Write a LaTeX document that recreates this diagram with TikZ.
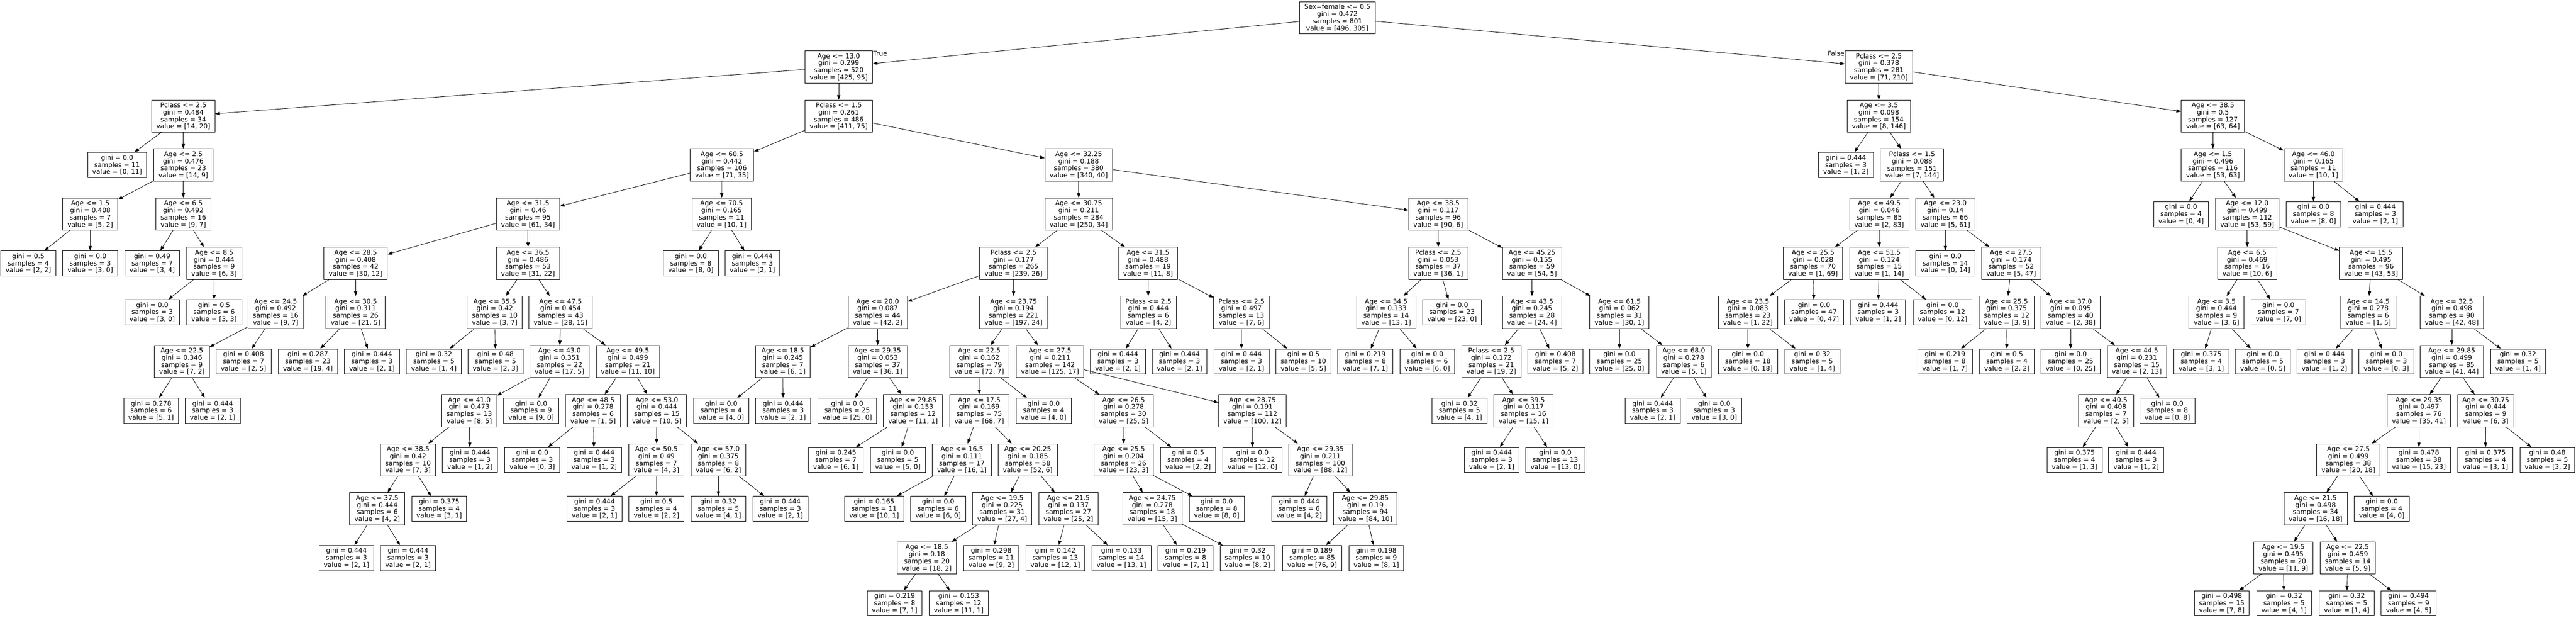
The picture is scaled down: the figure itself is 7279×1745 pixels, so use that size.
\documentclass[tikz,border=0pt]{standalone}
\usepackage{fontspec}
\usepackage{tikz}
\usetikzlibrary{arrows.meta}
\newfontfamily\treefont{DejaVu Sans}

\begin{document}
\begin{tikzpicture}[x=0.02cm, y=-0.02cm, >={Triangle[length=0.26cm, width=0.19cm]}]
	% Define styles for boxes
	\tikzset{
		splitbox/.style={
			rectangle,
			draw,
			line width=0.7pt,
			minimum height=1.82cm,
			inner xsep=0.27cm,
			inner ysep=0pt,
			align=center,
			font=\treefont\fontsize{10.6pt}{11.4pt}\selectfont
		},
		leafbox/.style={
			splitbox,
			minimum height=1.42cm % leaves have three lines
		},
		lbl/.style={
			inner sep=0.5pt,
			font=\treefont\fontsize{10.6pt}{11.4pt}\selectfont
		},
		branch/.style={->, line width=0.7pt}
	}
	\useasboundingbox (0,0) rectangle (7279,1745);
	
	% Root and first split
	\node[splitbox] (t) at (3779,50) {Sex=female <= 0.5\\gini = 0.472\\samples = 801\\value = [496, 305]};
	\node[splitbox] (tL) at (2370,189) {Age <= 13.0\\gini = 0.299\\samples = 520\\value = [425, 95]};
	\node[splitbox] (tR) at (5309,189) {Pclass <= 2.5\\gini = 0.378\\samples = 281\\value = [71, 210]};
	\node[lbl, anchor=north west] (trueLbl) at (tL.north east) {True};
	\node[lbl, anchor=north east] (falseLbl) at (tR.north west) {False};
	
	% Nodes for Age <= 13.0, children
	\node[splitbox] (tLL) at (518,328) {Pclass <= 2.5\\gini = 0.484\\samples = 34\\value = [14, 20]};
	\node[splitbox] (tLR) at (2370,328) {Pclass <= 1.5\\gini = 0.261\\samples = 486\\value = [411, 75]};
	\node[leafbox] (tLLL) at (331,466) {gini = 0.0\\samples = 11\\value = [0, 11]};
	\node[splitbox] (tLLR) at (518,466) {Age <= 2.5\\gini = 0.476\\samples = 23\\value = [14, 9]};
	\node[splitbox] (tLLRL) at (255,605) {Age <= 1.5\\gini = 0.408\\samples = 7\\value = [5, 2]};
	\node[splitbox] (tLLRR) at (518,605) {Age <= 6.5\\gini = 0.492\\samples = 16\\value = [9, 7]};
	\node[leafbox] (tLLRLL) at (80,744) {gini = 0.5\\samples = 4\\value = [2, 2]};
	\node[leafbox] (tLLRLR) at (255,744) {gini = 0.0\\samples = 3\\value = [3, 0]};
	\node[leafbox] (tLLRRL) at (430,744) {gini = 0.49\\samples = 7\\value = [3, 4]};
	\node[splitbox] (tLLRRR) at (605,744) {Age <= 8.5\\gini = 0.444\\samples = 9\\value = [6, 3]};
	\node[leafbox] (tLLRRRL) at (430,882) {gini = 0.0\\samples = 3\\value = [3, 0]};
	\node[leafbox] (tLLRRRR) at (605,882) {gini = 0.5\\samples = 6\\value = [3, 3]};
	
	% Nodes for Pclass <= 1.5
	\node[splitbox] (tLRL) at (2040,466) {Age <= 60.5\\gini = 0.442\\samples = 106\\value = [71, 35]};
	\node[splitbox] (tLRLL) at (1492,605) {Age <= 31.5\\gini = 0.46\\samples = 95\\value = [61, 34]};
	\node[splitbox] (tLRLR) at (2039,605) {Age <= 70.5\\gini = 0.165\\samples = 11\\value = [10, 1]};
	\node[leafbox] (tLRLRL) at (1952,744) {gini = 0.0\\samples = 8\\value = [8, 0]};
	\node[leafbox] (tLRLRR) at (2126,744) {gini = 0.444\\samples = 3\\value = [2, 1]};
	\node[splitbox] (tLRLLL) at (1005,744) {Age <= 28.5\\gini = 0.408\\samples = 42\\value = [30, 12]};
	\node[splitbox] (tLRLLR) at (1492,744) {Age <= 36.5\\gini = 0.486\\samples = 53\\value = [31, 22]};
	\node[splitbox] (tLRLLLL) at (779,882) {Age <= 24.5\\gini = 0.492\\samples = 16\\value = [9, 7]};
	\node[splitbox] (tLRLLLR) at (1005,882) {Age <= 30.5\\gini = 0.311\\samples = 26\\value = [21, 5]};
	\node[splitbox] (tLRLLLLL) at (514,1021) {Age <= 22.5\\gini = 0.346\\samples = 9\\value = [7, 2]};
	\node[leafbox] (tLRLLLLR) at (688,1021) {gini = 0.408\\samples = 7\\value = [2, 5]};
	\node[leafbox] (tLRLLLLLL) at (427,1160) {gini = 0.278\\samples = 6\\value = [5, 1]};
	\node[leafbox] (tLRLLLLLR) at (601,1160) {gini = 0.444\\samples = 3\\value = [2, 1]};
	\node[leafbox] (tLRLLLRL) at (870,1021) {gini = 0.287\\samples = 23\\value = [19, 4]};
	\node[leafbox] (tLRLLLRR) at (1051,1021) {gini = 0.444\\samples = 3\\value = [2, 1]};
	\node[splitbox] (tLRLLRL) at (1398,882) {Age <= 35.5\\gini = 0.42\\samples = 10\\value = [3, 7]};
	\node[splitbox] (tLRLLRR) at (1584,882) {Age <= 47.5\\gini = 0.454\\samples = 43\\value = [28, 15]};
	\node[leafbox] (tLRLLRLL) at (1226,1021) {gini = 0.32\\samples = 5\\value = [1, 4]};
	\node[leafbox] (tLRLLRLR) at (1400,1021) {gini = 0.48\\samples = 5\\value = [2, 3]};
	\node[splitbox] (tLRLLRRL) at (1581,1021) {Age <= 43.0\\gini = 0.351\\samples = 22\\value = [17, 5]};
	\node[splitbox] (tLRLLRRR) at (1774,1021) {Age <= 49.5\\gini = 0.499\\samples = 21\\value = [11, 10]};
	\node[splitbox] (tLRLLRRLL) at (1326,1160) {Age <= 41.0\\gini = 0.473\\samples = 13\\value = [8, 5]};
	\node[leafbox] (tLRLLRRLR) at (1501,1160) {gini = 0.0\\samples = 9\\value = [9, 0]};
	\node[splitbox] (tLRLLRRLLL) at (1153,1299) {Age <= 38.5\\gini = 0.42\\samples = 10\\value = [7, 3]};
	\node[leafbox] (tLRLLRRLLR) at (1328,1299) {gini = 0.444\\samples = 3\\value = [1, 2]};
	\node[splitbox] (tLRLLRRLLLL) at (1066,1437) {Age <= 37.5\\gini = 0.444\\samples = 6\\value = [4, 2]};
	\node[leafbox] (tLRLLRRLLLR) at (1241,1437) {gini = 0.375\\samples = 4\\value = [3, 1]};
	\node[leafbox] (tLRLLRRLLLLL) at (979,1576) {gini = 0.444\\samples = 3\\value = [2, 1]};
	\node[leafbox] (tLRLLRRLLLLR) at (1153,1576) {gini = 0.444\\samples = 3\\value = [2, 1]};
	\node[splitbox] (tLRLLRRRL) at (1676,1160) {Age <= 48.5\\gini = 0.278\\samples = 6\\value = [1, 5]};
	\node[splitbox] (tLRLLRRRR) at (1856,1160) {Age <= 53.0\\gini = 0.444\\samples = 15\\value = [10, 5]};
	\node[leafbox] (tLRLLRRRLL) at (1504,1299) {gini = 0.0\\samples = 3\\value = [0, 3]};
	\node[leafbox] (tLRLLRRRLR) at (1679,1299) {gini = 0.444\\samples = 3\\value = [1, 2]};
	\node[splitbox] (tLRLLRRRRL) at (1855,1299) {Age <= 50.5\\gini = 0.49\\samples = 7\\value = [4, 3]};
	\node[splitbox] (tLRLLRRRRR) at (2030,1299) {Age <= 57.0\\gini = 0.375\\samples = 8\\value = [6, 2]};
	\node[leafbox] (tLRLLRRRRLL) at (1680,1437) {gini = 0.444\\samples = 3\\value = [2, 1]};
	\node[leafbox] (tLRLLRRRRLR) at (1855,1437) {gini = 0.5\\samples = 4\\value = [2, 2]};
	\node[leafbox] (tLRLLRRRRRL) at (2030,1437) {gini = 0.32\\samples = 5\\value = [4, 1]};
	\node[leafbox] (tLRLLRRRRRR) at (2205,1437) {gini = 0.444\\samples = 3\\value = [2, 1]};
	
	% Nodes for Age <= 32.25
	\node[splitbox] (tLRR) at (3048,466) {Age <= 32.25\\gini = 0.188\\samples = 380\\value = [340, 40]};
	\node[splitbox] (tLRRL) at (3048,605) {Age <= 30.75\\gini = 0.211\\samples = 284\\value = [250, 34]};
	\node[splitbox] (tLRRR) at (4064,605) {Age <= 38.5\\gini = 0.117\\samples = 96\\value = [90, 6]};
	\node[splitbox] (tLRRLL) at (2864,744) {Pclass <= 2.5\\gini = 0.177\\samples = 265\\value = [239, 26]};
	\node[splitbox] (tLRRLR) at (3244,744) {Age <= 31.5\\gini = 0.488\\samples = 19\\value = [11, 8]};
	\node[splitbox] (tLRRLLL) at (2480,882) {Age <= 20.0\\gini = 0.087\\samples = 44\\value = [42, 2]};
	\node[splitbox] (tLRRLLR) at (2864,882) {Age <= 23.75\\gini = 0.194\\samples = 221\\value = [197, 24]};
	\node[splitbox] (tLRRLLLL) at (2212,1021) {Age <= 18.5\\gini = 0.245\\samples = 7\\value = [6, 1]};
	\node[splitbox] (tLRRLLLR) at (2480,1021) {Age <= 29.35\\gini = 0.053\\samples = 37\\value = [36, 1]};
	\node[leafbox] (tLRRLLLLL) at (2038,1160) {gini = 0.0\\samples = 4\\value = [4, 0]};
	\node[leafbox] (tLRRLLLLR) at (2213,1160) {gini = 0.444\\samples = 3\\value = [2, 1]};
	\node[leafbox] (tLRRLLLRL) at (2394,1160) {gini = 0.0\\samples = 25\\value = [25, 0]};
	\node[splitbox] (tLRRLLLRR) at (2580,1160) {Age <= 29.85\\gini = 0.153\\samples = 12\\value = [11, 1]};
	\node[leafbox] (tLRRLLLRRL) at (2362,1299) {gini = 0.245\\samples = 7\\value = [6, 1]};
	\node[leafbox] (tLRRLLLRRR) at (2537,1299) {gini = 0.0\\samples = 5\\value = [5, 0]};
	\node[splitbox] (tLRRLLRL) at (2767,1021) {Age <= 22.5\\gini = 0.162\\samples = 79\\value = [72, 7]};
	\node[splitbox] (tLRRLLRR) at (2967,1021) {Age <= 27.5\\gini = 0.211\\samples = 142\\value = [125, 17]};
	\node[splitbox] (tLRRLLRLL) at (2767,1160) {Age <= 17.5\\gini = 0.169\\samples = 75\\value = [68, 7]};
	\node[leafbox] (tLRRLLRLR) at (2949,1160) {gini = 0.0\\samples = 4\\value = [4, 0]};
	\node[splitbox] (tLRRLLRLLL) at (2718,1299) {Age <= 16.5\\gini = 0.111\\samples = 17\\value = [16, 1]};
	\node[splitbox] (tLRRLLRLLR) at (2904,1299) {Age <= 20.25\\gini = 0.185\\samples = 58\\value = [52, 6]};
	\node[leafbox] (tLRRLLRLLLL) at (2470,1437) {gini = 0.165\\samples = 11\\value = [10, 1]};
	\node[leafbox] (tLRRLLRLLLR) at (2651,1437) {gini = 0.0\\samples = 6\\value = [6, 0]};
	\node[splitbox] (tLRRLLRLLRL) at (2832,1437) {Age <= 19.5\\gini = 0.225\\samples = 31\\value = [27, 4]};
	\node[splitbox] (tLRRLLRLLRR) at (3019,1437) {Age <= 21.5\\gini = 0.137\\samples = 27\\value = [25, 2]};
	\node[splitbox] (tLRRLLRLLRLL) at (2619,1576) {Age <= 18.5\\gini = 0.18\\samples = 20\\value = [18, 2]};
	\node[leafbox] (tLRRLLRLLRLR) at (2801,1576) {gini = 0.298\\samples = 11\\value = [9, 2]};
	\node[leafbox] (tLRRLLRLLRLLL) at (2528,1704) {gini = 0.219\\samples = 8\\value = [7, 1]};
	\node[leafbox] (tLRRLLRLLRLLR) at (2709,1704) {gini = 0.153\\samples = 12\\value = [11, 1]};
	\node[leafbox] (tLRRLLRLLRRL) at (2982,1576) {gini = 0.142\\samples = 13\\value = [12, 1]};
	\node[leafbox] (tLRRLLRLLRRR) at (3169,1576) {gini = 0.133\\samples = 14\\value = [13, 1]};
	\node[splitbox] (tLRRLLRRL) at (3175,1160) {Age <= 26.5\\gini = 0.278\\samples = 30\\value = [25, 5]};
	\node[splitbox] (tLRRLLRRR) at (3539,1160) {Age <= 28.75\\gini = 0.191\\samples = 112\\value = [100, 12]};
	\node[splitbox] (tLRRLLRRLL) at (3175,1299) {Age <= 25.5\\gini = 0.204\\samples = 26\\value = [23, 3]};
	\node[leafbox] (tLRRLLRRLR) at (3357,1299) {gini = 0.5\\samples = 4\\value = [2, 2]};
	\node[splitbox] (tLRRLLRRLLL) at (3256,1437) {Age <= 24.75\\gini = 0.278\\samples = 18\\value = [15, 3]};
	\node[leafbox] (tLRRLLRRLLR) at (3438,1437) {gini = 0.0\\samples = 8\\value = [8, 0]};
	\node[leafbox] (tLRRLLRRLLLL) at (3350,1576) {gini = 0.219\\samples = 8\\value = [7, 1]};
	\node[leafbox] (tLRRLLRRLLLR) at (3525,1576) {gini = 0.32\\samples = 10\\value = [8, 2]};
	\node[leafbox] (tLRRLLRRRL) at (3539,1299) {gini = 0.0\\samples = 12\\value = [12, 0]};
	\node[splitbox] (tLRRLLRRRR) at (3731,1299) {Age <= 29.35\\gini = 0.211\\samples = 100\\value = [88, 12]};
	\node[leafbox] (tLRRLLRRRRL) at (3671,1437) {gini = 0.444\\samples = 6\\value = [4, 2]};
	\node[splitbox] (tLRRLLRRRRR) at (3858,1437) {Age <= 29.85\\gini = 0.19\\samples = 94\\value = [84, 10]};
	\node[leafbox] (tLRRLLRRRRRL) at (3708,1576) {gini = 0.189\\samples = 85\\value = [76, 9]};
	\node[leafbox] (tLRRLLRRRRRR) at (3889,1576) {gini = 0.198\\samples = 9\\value = [8, 1]};
	\node[splitbox] (tLRRLRL) at (3245,882) {Pclass <= 2.5\\gini = 0.444\\samples = 6\\value = [4, 2]};
	\node[splitbox] (tLRRLRR) at (3508,882) {Pclass <= 2.5\\gini = 0.497\\samples = 13\\value = [7, 6]};
	\node[leafbox] (tLRRLRLL) at (3159,1021) {gini = 0.444\\samples = 3\\value = [2, 1]};
	\node[leafbox] (tLRRLRLR) at (3333,1021) {gini = 0.444\\samples = 3\\value = [2, 1]};
	\node[leafbox] (tLRRLRRL) at (3508,1021) {gini = 0.444\\samples = 3\\value = [2, 1]};
	\node[leafbox] (tLRRLRRR) at (3683,1021) {gini = 0.5\\samples = 10\\value = [5, 5]};
	
	% Nodes for Age > 32.25
	\node[splitbox] (tLRRRL) at (4064,744) {Pclass <= 2.5\\gini = 0.053\\samples = 37\\value = [36, 1]};
	\node[splitbox] (tLRRRR) at (4329,744) {Age <= 45.25\\gini = 0.155\\samples = 59\\value = [54, 5]};
	\node[splitbox] (tLRRRLL) at (3917,882) {Age <= 34.5\\gini = 0.133\\samples = 14\\value = [13, 1]};
	\node[leafbox] (tLRRRLR) at (4103,882) {gini = 0.0\\samples = 23\\value = [23, 0]};
	\node[leafbox] (tLRRRLLL) at (3858,1021) {gini = 0.219\\samples = 8\\value = [7, 1]};
	\node[leafbox] (tLRRRLLR) at (4033,1021) {gini = 0.0\\samples = 6\\value = [6, 0]};
	\node[splitbox] (tLRRRRL) at (4329,882) {Age <= 43.5\\gini = 0.245\\samples = 28\\value = [24, 4]};
	\node[splitbox] (tLRRRRR) at (4576,882) {Age <= 61.5\\gini = 0.062\\samples = 31\\value = [30, 1]};
	\node[splitbox] (tLRRRRLL) at (4214,1021) {Pclass <= 2.5\\gini = 0.172\\samples = 21\\value = [19, 2]};
	\node[leafbox] (tLRRRRLR) at (4395,1021) {gini = 0.408\\samples = 7\\value = [5, 2]};
	\node[leafbox] (tLRRRRLLL) at (4124,1160) {gini = 0.32\\samples = 5\\value = [4, 1]};
	\node[splitbox] (tLRRRRLLR) at (4305,1160) {Age <= 39.5\\gini = 0.117\\samples = 16\\value = [15, 1]};
	\node[leafbox] (tLRRRRLLRL) at (4215,1299) {gini = 0.444\\samples = 3\\value = [2, 1]};
	\node[leafbox] (tLRRRRLLRR) at (4395,1299) {gini = 0.0\\samples = 13\\value = [13, 0]};
	\node[leafbox] (tLRRRRRL) at (4576,1021) {gini = 0.0\\samples = 25\\value = [25, 0]};
	\node[splitbox] (tLRRRRRR) at (4758,1021) {Age <= 68.0\\gini = 0.278\\samples = 6\\value = [5, 1]};
	\node[leafbox] (tLRRRRRRL) at (4670,1160) {gini = 0.444\\samples = 3\\value = [2, 1]};
	\node[leafbox] (tLRRRRRRR) at (4844,1160) {gini = 0.0\\samples = 3\\value = [3, 0]};
	
	% Nodes for Pclass <= 2.5 (False side)
	\node[splitbox] (tRL) at (5309,328) {Age <= 3.5\\gini = 0.098\\samples = 154\\value = [8, 146]};
	\node[splitbox] (tRR) at (6253,328) {Age <= 38.5\\gini = 0.5\\samples = 127\\value = [63, 64]};
	\node[leafbox] (tRLL) at (5216,466) {gini = 0.444\\samples = 3\\value = [1, 2]};
	\node[splitbox] (tRLR) at (5403,466) {Pclass <= 1.5\\gini = 0.088\\samples = 151\\value = [7, 144]};
	\node[splitbox] (tRLRL) at (5310,605) {Age <= 49.5\\gini = 0.046\\samples = 85\\value = [2, 83]};
	\node[splitbox] (tRLRR) at (5497,605) {Age <= 23.0\\gini = 0.14\\samples = 66\\value = [5, 61]};
	\node[splitbox] (tRLRLL) at (5123,744) {Age <= 25.5\\gini = 0.028\\samples = 70\\value = [1, 69]};
	\node[splitbox] (tRLRLR) at (5310,744) {Age <= 51.5\\gini = 0.124\\samples = 15\\value = [1, 14]};
	\node[splitbox] (tRLRLLL) at (4939,882) {Age <= 23.5\\gini = 0.083\\samples = 23\\value = [1, 22]};
	\node[leafbox] (tRLRLLR) at (5126,882) {gini = 0.0\\samples = 47\\value = [0, 47]};
	\node[leafbox] (tRLRLLLL) at (4939,1021) {gini = 0.0\\samples = 18\\value = [0, 18]};
	\node[leafbox] (tRLRLLLR) at (5121,1021) {gini = 0.32\\samples = 5\\value = [1, 4]};
	\node[leafbox] (tRLRLRL) at (5307,882) {gini = 0.444\\samples = 3\\value = [1, 2]};
	\node[leafbox] (tRLRLRR) at (5489,882) {gini = 0.0\\samples = 12\\value = [0, 12]};
	\node[leafbox] (tRLRRL) at (5497,744) {gini = 0.0\\samples = 14\\value = [0, 14]};
	\node[splitbox] (tRLRRR) at (5683,744) {Age <= 27.5\\gini = 0.174\\samples = 52\\value = [5, 47]};
	\node[splitbox] (tRLRRRL) at (5670,882) {Age <= 25.5\\gini = 0.375\\samples = 12\\value = [3, 9]};
	\node[splitbox] (tRLRRRR) at (5851,882) {Age <= 37.0\\gini = 0.095\\samples = 40\\value = [2, 38]};
	\node[leafbox] (tRLRRRLL) at (5496,1021) {gini = 0.219\\samples = 8\\value = [1, 7]};
	\node[leafbox] (tRLRRRLR) at (5671,1021) {gini = 0.5\\samples = 4\\value = [2, 2]};
	\node[leafbox] (tRLRRRRL) at (5851,1021) {gini = 0.0\\samples = 25\\value = [0, 25]};
	\node[splitbox] (tRLRRRRR) at (6038,1021) {Age <= 44.5\\gini = 0.231\\samples = 15\\value = [2, 13]};
	\node[splitbox] (tRLRRRRRL) at (5951,1160) {Age <= 40.5\\gini = 0.408\\samples = 7\\value = [2, 5]};
	\node[leafbox] (tRLRRRRRR) at (6124,1160) {gini = 0.0\\samples = 8\\value = [0, 8]};
	\node[leafbox] (tRLRRRRRLL) at (5862,1299) {gini = 0.375\\samples = 4\\value = [1, 3]};
	\node[leafbox] (tRLRRRRRLR) at (6036,1299) {gini = 0.444\\samples = 3\\value = [1, 2]};
	
	% Nodes for Age <= 38.5 (False side)
	\node[splitbox] (tRRL) at (6253,466) {Age <= 1.5\\gini = 0.496\\samples = 116\\value = [53, 63]};
	\node[splitbox] (tRRR) at (6537,466) {Age <= 46.0\\gini = 0.165\\samples = 11\\value = [10, 1]};
	\node[leafbox] (tRRRL) at (6537,605) {gini = 0.0\\samples = 8\\value = [8, 0]};
	\node[leafbox] (tRRRR) at (6712,605) {gini = 0.444\\samples = 3\\value = [2, 1]};
	\node[leafbox] (tRRLL) at (6163,605) {gini = 0.0\\samples = 4\\value = [0, 4]};
	\node[splitbox] (tRRLR) at (6350,605) {Age <= 12.0\\gini = 0.499\\samples = 112\\value = [53, 59]};
	\node[splitbox] (tRRLRL) at (6350,744) {Age <= 6.5\\gini = 0.469\\samples = 16\\value = [10, 6]};
	\node[splitbox] (tRRLRR) at (6700,744) {Age <= 15.5\\gini = 0.495\\samples = 96\\value = [43, 53]};
	\node[splitbox] (tRRLRLL) at (6263,882) {Age <= 3.5\\gini = 0.444\\samples = 9\\value = [3, 6]};
	\node[leafbox] (tRRLRLR) at (6438,882) {gini = 0.0\\samples = 7\\value = [7, 0]};
	\node[leafbox] (tRRLRLLL) at (6220,1021) {gini = 0.375\\samples = 4\\value = [3, 1]};
	\node[leafbox] (tRRLRLLR) at (6394,1021) {gini = 0.0\\samples = 5\\value = [0, 5]};
	\node[splitbox] (tRRLRRL) at (6692,882) {Age <= 14.5\\gini = 0.278\\samples = 6\\value = [1, 5]};
	\node[splitbox] (tRRLRRR) at (6928,882) {Age <= 32.5\\gini = 0.498\\samples = 90\\value = [42, 48]};
	\node[leafbox] (tRRLRRLL) at (6568,1021) {gini = 0.444\\samples = 3\\value = [1, 2]};
	\node[leafbox] (tRRLRRLR) at (6743,1021) {gini = 0.0\\samples = 3\\value = [0, 3]};
	\node[splitbox] (tRRLRRRL) at (6928,1021) {Age <= 29.85\\gini = 0.499\\samples = 85\\value = [41, 44]};
	\node[leafbox] (tRRLRRRR) at (7115,1021) {gini = 0.32\\samples = 5\\value = [1, 4]};
	\node[splitbox] (tRRLRRRLL) at (6835,1160) {Age <= 29.35\\gini = 0.497\\samples = 76\\value = [35, 41]};
	\node[splitbox] (tRRLRRRLR) at (7024,1160) {Age <= 30.75\\gini = 0.444\\samples = 9\\value = [6, 3]};
	\node[splitbox] (tRRLRRRLLL) at (6636,1299) {Age <= 27.5\\gini = 0.499\\samples = 38\\value = [20, 18]};
	\node[leafbox] (tRRLRRRLLR) at (6835,1299) {gini = 0.478\\samples = 38\\value = [15, 23]};
	\node[leafbox] (tRRLRRRLRL) at (7023,1299) {gini = 0.375\\samples = 4\\value = [3, 1]};
	\node[leafbox] (tRRLRRRLRR) at (7198,1299) {gini = 0.48\\samples = 5\\value = [3, 2]};
	\node[splitbox] (tRRLRRRLLLL) at (6543,1437) {Age <= 21.5\\gini = 0.498\\samples = 34\\value = [16, 18]};
	\node[leafbox] (tRRLRRRLLLR) at (6730,1437) {gini = 0.0\\samples = 4\\value = [4, 0]};
	\node[splitbox] (tRRLRRRLLLLL) at (6452,1576) {Age <= 19.5\\gini = 0.495\\samples = 20\\value = [11, 9]};
	\node[splitbox] (tRRLRRRLLLLR) at (6634,1576) {Age <= 22.5\\gini = 0.459\\samples = 14\\value = [5, 9]};
	\node[leafbox] (tRRLRRRLLLLLL) at (6278,1704) {gini = 0.498\\samples = 15\\value = [7, 8]};
	\node[leafbox] (tRRLRRRLLLLLR) at (6454,1704) {gini = 0.32\\samples = 5\\value = [4, 1]};
	\node[leafbox] (tRRLRRRLLLLRL) at (6631,1704) {gini = 0.32\\samples = 5\\value = [1, 4]};
	\node[leafbox] (tRRLRRRLLLLRR) at (6806,1704) {gini = 0.494\\samples = 9\\value = [4, 5]};
	
	% Arrows from root
	\draw[branch] (t) -- (tL);
	\draw[branch] (t) -- (tR);
	
	% Arrows for Age <= 13.0
	\draw[branch] (tL) -- (tLL);
	\draw[branch] (tL) -- (tLR);
	\draw[branch] (tLL) -- (tLLL);
	\draw[branch] (tLL) -- (tLLR);
	\draw[branch] (tLLR) -- (tLLRL);
	\draw[branch] (tLLR) -- (tLLRR);
	\draw[branch] (tLLRL) -- (tLLRLL);
	\draw[branch] (tLLRL) -- (tLLRLR);
	\draw[branch] (tLLRR) -- (tLLRRL);
	\draw[branch] (tLLRR) -- (tLLRRR);
	\draw[branch] (tLLRRR) -- (tLLRRRL);
	\draw[branch] (tLLRRR) -- (tLLRRRR);
	
	% Arrows for Pclass <= 1.5
	\draw[branch] (tLR) -- (tLRL);
	\draw[branch] (tLR) -- (tLRR);
	\draw[branch] (tLRL) -- (tLRLL);
	\draw[branch] (tLRL) -- (tLRLR);
	\draw[branch] (tLRLR) -- (tLRLRL);
	\draw[branch] (tLRLR) -- (tLRLRR);
	\draw[branch] (tLRLL) -- (tLRLLL);
	\draw[branch] (tLRLL) -- (tLRLLR);
	\draw[branch] (tLRLLL) -- (tLRLLLL);
	\draw[branch] (tLRLLL) -- (tLRLLLR);
	\draw[branch] (tLRLLLL) -- (tLRLLLLL);
	\draw[branch] (tLRLLLL) -- (tLRLLLLR);
	\draw[branch] (tLRLLLLL) -- (tLRLLLLLL);
	\draw[branch] (tLRLLLLL) -- (tLRLLLLLR);
	\draw[branch] (tLRLLLR) -- (tLRLLLRL);
	\draw[branch] (tLRLLLR) -- (tLRLLLRR);
	\draw[branch] (tLRLLR) -- (tLRLLRL);
	\draw[branch] (tLRLLR) -- (tLRLLRR);
	\draw[branch] (tLRLLRL) -- (tLRLLRLL);
	\draw[branch] (tLRLLRL) -- (tLRLLRLR);
	\draw[branch] (tLRLLRR) -- (tLRLLRRL);
	\draw[branch] (tLRLLRR) -- (tLRLLRRR);
	\draw[branch] (tLRLLRRL) -- (tLRLLRRLL);
	\draw[branch] (tLRLLRRL) -- (tLRLLRRLR);
	\draw[branch] (tLRLLRRLL) -- (tLRLLRRLLL);
	\draw[branch] (tLRLLRRLL) -- (tLRLLRRLLR);
	\draw[branch] (tLRLLRRLLL) -- (tLRLLRRLLLL);
	\draw[branch] (tLRLLRRLLL) -- (tLRLLRRLLLR);
	\draw[branch] (tLRLLRRLLLL) -- (tLRLLRRLLLLL);
	\draw[branch] (tLRLLRRLLLL) -- (tLRLLRRLLLLR);
	\draw[branch] (tLRLLRRR) -- (tLRLLRRRL);
	\draw[branch] (tLRLLRRR) -- (tLRLLRRRR);
	\draw[branch] (tLRLLRRRL) -- (tLRLLRRRLL);
	\draw[branch] (tLRLLRRRL) -- (tLRLLRRRLR);
	\draw[branch] (tLRLLRRRR) -- (tLRLLRRRRL);
	\draw[branch] (tLRLLRRRR) -- (tLRLLRRRRR);
	\draw[branch] (tLRLLRRRRL) -- (tLRLLRRRRLL);
	\draw[branch] (tLRLLRRRRL) -- (tLRLLRRRRLR);
	\draw[branch] (tLRLLRRRRR) -- (tLRLLRRRRRL);
	\draw[branch] (tLRLLRRRRR) -- (tLRLLRRRRRR);
	
	% Arrows for Age <= 32.25
	\draw[branch] (tLRR) -- (tLRRL);
	\draw[branch] (tLRR) -- (tLRRR);
	\draw[branch] (tLRRL) -- (tLRRLL);
	\draw[branch] (tLRRL) -- (tLRRLR);
	\draw[branch] (tLRRLL) -- (tLRRLLL);
	\draw[branch] (tLRRLL) -- (tLRRLLR);
	\draw[branch] (tLRRLLL) -- (tLRRLLLL);
	\draw[branch] (tLRRLLL) -- (tLRRLLLR);
	\draw[branch] (tLRRLLLL) -- (tLRRLLLLL);
	\draw[branch] (tLRRLLLL) -- (tLRRLLLLR);
	\draw[branch] (tLRRLLLR) -- (tLRRLLLRL);
	\draw[branch] (tLRRLLLR) -- (tLRRLLLRR);
	\draw[branch] (tLRRLLLRR) -- (tLRRLLLRRL);
	\draw[branch] (tLRRLLLRR) -- (tLRRLLLRRR);
	\draw[branch] (tLRRLLR) -- (tLRRLLRL);
	\draw[branch] (tLRRLLR) -- (tLRRLLRR);
	\draw[branch] (tLRRLLRL) -- (tLRRLLRLL);
	\draw[branch] (tLRRLLRL) -- (tLRRLLRLR);
	\draw[branch] (tLRRLLRLL) -- (tLRRLLRLLL);
	\draw[branch] (tLRRLLRLL) -- (tLRRLLRLLR);
	\draw[branch] (tLRRLLRLLL) -- (tLRRLLRLLLL);
	\draw[branch] (tLRRLLRLLL) -- (tLRRLLRLLLR);
	\draw[branch] (tLRRLLRLLR) -- (tLRRLLRLLRL);
	\draw[branch] (tLRRLLRLLR) -- (tLRRLLRLLRR);
	\draw[branch] (tLRRLLRLLRL) -- (tLRRLLRLLRLL);
	\draw[branch] (tLRRLLRLLRL) -- (tLRRLLRLLRLR);
	\draw[branch] (tLRRLLRLLRLL) -- (tLRRLLRLLRLLL);
	\draw[branch] (tLRRLLRLLRLL) -- (tLRRLLRLLRLLR);
	\draw[branch] (tLRRLLRLLRR) -- (tLRRLLRLLRRL);
	\draw[branch] (tLRRLLRLLRR) -- (tLRRLLRLLRRR);
	\draw[branch] (tLRRLLRR) -- (tLRRLLRRL);
	\draw[branch] (tLRRLLRR) -- (tLRRLLRRR);
	\draw[branch] (tLRRLLRRL) -- (tLRRLLRRLL);
	\draw[branch] (tLRRLLRRL) -- (tLRRLLRRLR);
	\draw[branch] (tLRRLLRRLL) -- (tLRRLLRRLLL);
	\draw[branch] (tLRRLLRRLL) -- (tLRRLLRRLLR);
	\draw[branch] (tLRRLLRRLLL) -- (tLRRLLRRLLLL);
	\draw[branch] (tLRRLLRRLLL) -- (tLRRLLRRLLLR);
	\draw[branch] (tLRRLLRRR) -- (tLRRLLRRRL);
	\draw[branch] (tLRRLLRRR) -- (tLRRLLRRRR);
	\draw[branch] (tLRRLLRRRR) -- (tLRRLLRRRRL);
	\draw[branch] (tLRRLLRRRR) -- (tLRRLLRRRRR);
	\draw[branch] (tLRRLLRRRRR) -- (tLRRLLRRRRRL);
	\draw[branch] (tLRRLLRRRRR) -- (tLRRLLRRRRRR);
	\draw[branch] (tLRRLR) -- (tLRRLRL);
	\draw[branch] (tLRRLR) -- (tLRRLRR);
	\draw[branch] (tLRRLRL) -- (tLRRLRLL);
	\draw[branch] (tLRRLRL) -- (tLRRLRLR);
	\draw[branch] (tLRRLRR) -- (tLRRLRRL);
	\draw[branch] (tLRRLRR) -- (tLRRLRRR);
	
	% Arrows for Age > 32.25
	\draw[branch] (tLRRR) -- (tLRRRL);
	\draw[branch] (tLRRR) -- (tLRRRR);
	\draw[branch] (tLRRRL) -- (tLRRRLL);
	\draw[branch] (tLRRRL) -- (tLRRRLR);
	\draw[branch] (tLRRRLL) -- (tLRRRLLL);
	\draw[branch] (tLRRRLL) -- (tLRRRLLR);
	\draw[branch] (tLRRRR) -- (tLRRRRL);
	\draw[branch] (tLRRRR) -- (tLRRRRR);
	\draw[branch] (tLRRRRL) -- (tLRRRRLL);
	\draw[branch] (tLRRRRL) -- (tLRRRRLR);
	\draw[branch] (tLRRRRLL) -- (tLRRRRLLL);
	\draw[branch] (tLRRRRLL) -- (tLRRRRLLR);
	\draw[branch] (tLRRRRLLR) -- (tLRRRRLLRL);
	\draw[branch] (tLRRRRLLR) -- (tLRRRRLLRR);
	\draw[branch] (tLRRRRR) -- (tLRRRRRL);
	\draw[branch] (tLRRRRR) -- (tLRRRRRR);
	\draw[branch] (tLRRRRRR) -- (tLRRRRRRL);
	\draw[branch] (tLRRRRRR) -- (tLRRRRRRR);
	
	% Arrows for Pclass <= 2.5 (False side)
	\draw[branch] (tR) -- (tRL);
	\draw[branch] (tR) -- (tRR);
	\draw[branch] (tRL) -- (tRLL);
	\draw[branch] (tRL) -- (tRLR);
	\draw[branch] (tRLR) -- (tRLRL);
	\draw[branch] (tRLR) -- (tRLRR);
	\draw[branch] (tRLRL) -- (tRLRLL);
	\draw[branch] (tRLRL) -- (tRLRLR);
	\draw[branch] (tRLRLL) -- (tRLRLLL);
	\draw[branch] (tRLRLL) -- (tRLRLLR);
	\draw[branch] (tRLRLLL) -- (tRLRLLLL);
	\draw[branch] (tRLRLLL) -- (tRLRLLLR);
	\draw[branch] (tRLRLR) -- (tRLRLRL);
	\draw[branch] (tRLRLR) -- (tRLRLRR);
	\draw[branch] (tRLRR) -- (tRLRRL);
	\draw[branch] (tRLRR) -- (tRLRRR);
	\draw[branch] (tRLRRR) -- (tRLRRRL);
	\draw[branch] (tRLRRR) -- (tRLRRRR);
	\draw[branch] (tRLRRRL) -- (tRLRRRLL);
	\draw[branch] (tRLRRRL) -- (tRLRRRLR);
	\draw[branch] (tRLRRRR) -- (tRLRRRRL);
	\draw[branch] (tRLRRRR) -- (tRLRRRRR);
	\draw[branch] (tRLRRRRR) -- (tRLRRRRRL);
	\draw[branch] (tRLRRRRR) -- (tRLRRRRRR);
	\draw[branch] (tRLRRRRRL) -- (tRLRRRRRLL);
	\draw[branch] (tRLRRRRRL) -- (tRLRRRRRLR);
	
	% Arrows for Age <= 38.5 (False side)
	\draw[branch] (tRR) -- (tRRL);
	\draw[branch] (tRR) -- (tRRR);
	\draw[branch] (tRRR) -- (tRRRL);
	\draw[branch] (tRRR) -- (tRRRR);
	\draw[branch] (tRRL) -- (tRRLL);
	\draw[branch] (tRRL) -- (tRRLR);
	\draw[branch] (tRRLR) -- (tRRLRL);
	\draw[branch] (tRRLR) -- (tRRLRR);
	\draw[branch] (tRRLRL) -- (tRRLRLL);
	\draw[branch] (tRRLRL) -- (tRRLRLR);
	\draw[branch] (tRRLRLL) -- (tRRLRLLL);
	\draw[branch] (tRRLRLL) -- (tRRLRLLR);
	\draw[branch] (tRRLRR) -- (tRRLRRL);
	\draw[branch] (tRRLRR) -- (tRRLRRR);
	\draw[branch] (tRRLRRL) -- (tRRLRRLL);
	\draw[branch] (tRRLRRL) -- (tRRLRRLR);
	\draw[branch] (tRRLRRR) -- (tRRLRRRL);
	\draw[branch] (tRRLRRR) -- (tRRLRRRR);
	\draw[branch] (tRRLRRRL) -- (tRRLRRRLL);
	\draw[branch] (tRRLRRRL) -- (tRRLRRRLR);
	\draw[branch] (tRRLRRRLL) -- (tRRLRRRLLL);
	\draw[branch] (tRRLRRRLL) -- (tRRLRRRLLR);
	\draw[branch] (tRRLRRRLR) -- (tRRLRRRLRL);
	\draw[branch] (tRRLRRRLR) -- (tRRLRRRLRR);
	\draw[branch] (tRRLRRRLLL) -- (tRRLRRRLLLL);
	\draw[branch] (tRRLRRRLLL) -- (tRRLRRRLLLR);
	\draw[branch] (tRRLRRRLLLL) -- (tRRLRRRLLLLL);
	\draw[branch] (tRRLRRRLLLL) -- (tRRLRRRLLLLR);
	\draw[branch] (tRRLRRRLLLLL) -- (tRRLRRRLLLLLL);
	\draw[branch] (tRRLRRRLLLLL) -- (tRRLRRRLLLLLR);
	\draw[branch] (tRRLRRRLLLLR) -- (tRRLRRRLLLLRL);
	\draw[branch] (tRRLRRRLLLLR) -- (tRRLRRRLLLLRR);
\end{tikzpicture}
\end{document}
